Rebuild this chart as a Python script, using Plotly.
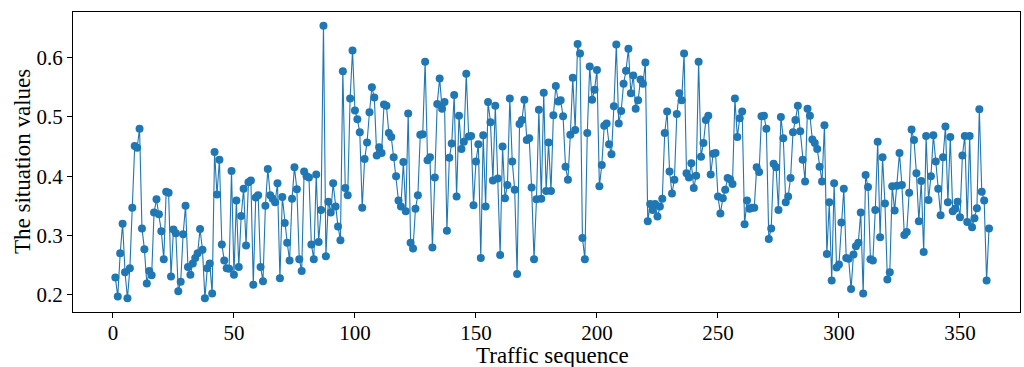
import plotly.graph_objects as go

values_1 = [0.229, 0.197, 0.27, 0.32, 0.238, 0.194, 0.245, 0.347, 0.451, 0.448,
            0.48, 0.312, 0.277, 0.219, 0.24, 0.233, 0.339, 0.361, 0.336, 0.307,
            0.26, 0.374, 0.372, 0.231, 0.31, 0.304, 0.206, 0.222, 0.302, 0.35,
            0.247, 0.234, 0.253, 0.262, 0.27, 0.311, 0.276, 0.194]
values_2 = [0.245, 0.253, 0.202, 0.441, 0.369, 0.428, 0.285, 0.258, 0.245, 0.244,
            0.409, 0.234, 0.359, 0.247, 0.333, 0.379, 0.283, 0.39, 0.393, 0.217,
            0.364, 0.368, 0.247, 0.223, 0.35, 0.412, 0.368, 0.362, 0.356, 0.388,
            0.228, 0.365, 0.321, 0.288, 0.258, 0.362, 0.415, 0.378, 0.26]
values_3 = [0.24, 0.408, 0.4, 0.398, 0.285, 0.26, 0.403, 0.289, 0.343, 0.654,
            0.265, 0.357, 0.339, 0.388, 0.349, 0.315, 0.292, 0.577, 0.38, 0.368,
            0.531, 0.612, 0.511, 0.496, 0.474, 0.347, 0.429, 0.457, 0.508, 0.55,
            0.533, 0.435, 0.449, 0.439, 0.521, 0.519, 0.473, 0.466, 0.432, 0.4]
values_4 = [0.359, 0.349, 0.424, 0.341, 0.506, 0.288, 0.278, 0.345, 0.368, 0.47,
            0.471, 0.593, 0.427, 0.432, 0.28, 0.398, 0.522, 0.565, 0.514, 0.525,
            0.308, 0.431, 0.455, 0.537, 0.366, 0.502, 0.446, 0.458, 0.573, 0.467,
            0.468, 0.351, 0.425, 0.454, 0.262, 0.469, 0.349, 0.525, 0.491, 0.393]
values_5 = [0.519, 0.396, 0.267, 0.45, 0.363, 0.385, 0.531, 0.425, 0.377, 0.235,
            0.488, 0.495, 0.529, 0.461, 0.464, 0.381, 0.26, 0.361, 0.512, 0.362,
            0.541, 0.375, 0.457, 0.375, 0.503, 0.552, 0.526, 0.528, 0.501, 0.416,
            0.394, 0.47, 0.566, 0.478, 0.623, 0.607, 0.296, 0.26, 0.473]
values_6 = [0.585, 0.529, 0.546, 0.579, 0.383, 0.419, 0.485, 0.489, 0.454, 0.437,
            0.518, 0.622, 0.489, 0.51, 0.556, 0.578, 0.615, 0.54, 0.57, 0.514,
            0.528, 0.563, 0.556, 0.592, 0.324, 0.353, 0.343, 0.353, 0.332, 0.349,
            0.362, 0.473, 0.509, 0.408, 0.371, 0.394, 0.505, 0.54, 0.528]
values_7 = [0.607, 0.405, 0.398, 0.422, 0.38, 0.401, 0.593, 0.433, 0.456, 0.495,
            0.502, 0.403, 0.438, 0.439, 0.366, 0.337, 0.363, 0.377, 0.397, 0.395,
            0.387, 0.531, 0.466, 0.498, 0.509, 0.319, 0.359, 0.345, 0.347, 0.347,
            0.415, 0.407, 0.501, 0.502, 0.48, 0.294, 0.312, 0.421, 0.415, 0.343]
values_8 = [0.5, 0.464, 0.356, 0.366, 0.397, 0.474, 0.495, 0.519, 0.476, 0.428,
            0.391, 0.514, 0.502, 0.462, 0.456, 0.446, 0.416, 0.391, 0.486, 0.269,
            0.356, 0.224, 0.388, 0.246, 0.251, 0.322, 0.379, 0.262, 0.261, 0.21,
            0.268, 0.282, 0.288, 0.339, 0.202, 0.402, 0.382, 0.26]
values_9 = [0.258, 0.343, 0.458, 0.297, 0.432, 0.354, 0.226, 0.238, 0.383, 0.342,
            0.384, 0.439, 0.385, 0.301, 0.306, 0.372, 0.479, 0.461, 0.405, 0.324,
            0.392, 0.272, 0.468, 0.36, 0.4, 0.469, 0.425, 0.379, 0.334, 0.432,
            0.484, 0.356, 0.466, 0.341, 0.345, 0.357, 0.331, 0.435, 0.468, 0.323]
values_10 = [0.468, 0.314, 0.329, 0.346, 0.513, 0.374, 0.359, 0.224, 0.312]

situation = (values_1 + values_2 + values_3 + values_4 + values_5 +
             values_6 + values_7 + values_8 + values_9 + values_10)
sequence = list(range(1, len(situation) + 1))

x_ticks = [0, 50, 100, 150, 200, 250, 300, 350]
y_ticks = [0.2, 0.3, 0.4, 0.5, 0.6]
x_title = "Traffic sequence"
y_title = "The situation values"

FONT = "Liberation Serif"
W, H = 1024, 367
L, R, T, B = 73, 4, 12, 55

fig = go.Figure()
fig.add_trace(go.Scatter(
    x=sequence, y=situation, mode="lines+markers",
    line=dict(color="#1f77b4", width=1.1),
    marker=dict(color="#1f77b4", size=8, line=dict(width=0)),
    showlegend=False, hoverinfo="skip",
))

axis_common = dict(
    showline=True, linecolor="black", linewidth=1, mirror=True,
    ticks="outside", ticklen=5, tickwidth=1, tickcolor="black",
    showgrid=False, zeroline=False,
    tickfont=dict(family=FONT, size=21, color="black"),
)

fig.update_layout(
    width=W, height=H,
    margin=dict(l=L, r=R, t=T, b=B, autoexpand=False),
    paper_bgcolor="white", plot_bgcolor="white",
    font=dict(family=FONT, color="black"),
    xaxis=dict(range=[-16.5, 374.8], tickvals=x_ticks, ticklabelstandoff=-3,
               **axis_common),
    yaxis=dict(range=[0.171, 0.677], tickvals=y_ticks, tickformat=".1f",
               **axis_common),
    annotations=[
        dict(text=x_title, xref="paper", yref="paper",
             x=(552 - L) / (W - L - R), y=-(355 - (H - B)) / (H - T - B),
             xanchor="center", yanchor="middle", showarrow=False,
             font=dict(family=FONT, size=23, color="black")),
        dict(text=y_title, xref="paper", yref="paper", textangle=-90,
             x=-(L - 22) / (W - L - R), y=(H - B - 162) / (H - T - B),
             xanchor="center", yanchor="middle", showarrow=False,
             font=dict(family=FONT, size=23, color="black")),
    ],
)

fig.write_html("out.html", config={"displayModeBar": False},
               post_script="document.body.style.margin='0';document.body.style.overflow='hidden';")
